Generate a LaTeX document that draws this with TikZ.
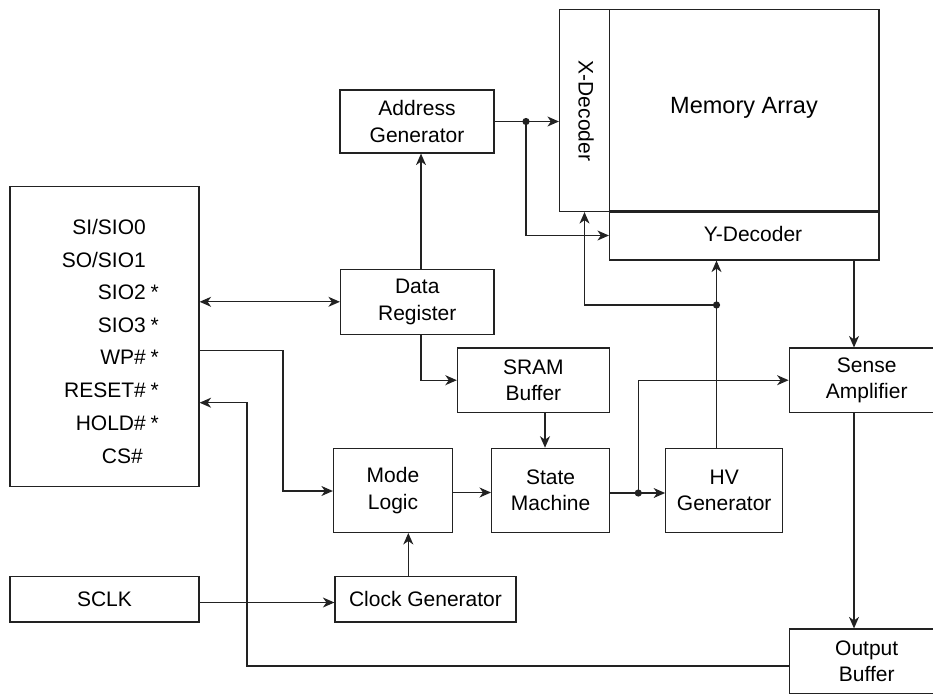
\documentclass[tikz,border=0pt]{standalone}
\usepackage{fontspec}
\setmainfont{Liberation Sans}
\usetikzlibrary{arrows.meta}
\definecolor{linec}{HTML}{222222}
\begin{document}
\begin{tikzpicture}[x=1pt,y=-1pt,
  every node/.style={font=\fontsize{21}{26.5}\selectfont, text=black},
  box/.style={draw=linec, line width=1.2pt, rectangle, inner sep=0pt, align=center},
  tip/.tip={Stealth[length=11.5pt,width=10pt,inset=3.5pt]},
  arr/.style={draw=linec, line width=1.2pt, -tip},
  biarr/.style={draw=linec, line width=1.2pt, tip-tip},
  pinname/.style={anchor=base east, inner sep=0pt},
  pinstar/.style={anchor=base west, inner sep=0pt}]

\useasboundingbox (0,0) rectangle (933,693);
\clip (0,0) rectangle (933,693);

% ---- pin block ----
\node[box, minimum width=189pt, minimum height=300pt] (pins) at (104.5,336.5) {};
\node[pinname] (p0) at (146,234.2) {SI/SIO0};
\node[pinname] (p1) at (146,267.5) {SO/SIO1};
\node[pinname] (p2) at (146,299.2) {SIO2};
\node[pinstar] (s2) at (150.5,299.2) {*};
\node[pinname] (p3) at (146,332.5) {SIO3};
\node[pinstar] (s3) at (150.5,332.5) {*};
\node[pinname] (p4) at (146,364.2) {WP\#};
\node[pinstar] (s4) at (150.5,364.2) {*};
\node[pinname] (p5) at (146,397.5) {RESET\#};
\node[pinstar] (s5) at (150.5,397.5) {*};
\node[pinname] (p6) at (146,430.2) {HOLD\#};
\node[pinstar] (s6) at (150.5,430.2) {*};
\node[pinname] (p7) at (143,463.5) {CS\#};

\node[box, minimum width=189pt, minimum height=45.5pt] (sclk) at (104.5,599.3) {SCLK};

% ---- logic blocks ----
\node[box, minimum width=154pt, minimum height=63pt] (addr) at (417,121.5) {Address\\Generator};
\node[box, minimum width=153.5pt, minimum height=65pt] (dreg) at (417.25,301.8) {Data\\Register};
\node[box, minimum width=152pt, minimum height=64.3pt] (sram) at (533.4,380.2) {SRAM\\Buffer};
\node[box, minimum width=119pt, minimum height=84pt] (mode) at (393,490.4) {Mode\\Logic};
\node[box, minimum width=118pt, minimum height=84pt] (state) at (550.6,490.3) {State\\Machine};
\node[box, minimum width=117pt, minimum height=84pt] (hv) at (724.2,490.3) {HV\\Generator};
\node[box, minimum width=181pt, minimum height=45.5pt] (clk) at (425.5,599.3) {Clock Generator};
\node[box, minimum width=155pt, minimum height=64.3pt] (sense) at (866.7,380.2) {Sense\\Amplifier};
\node[box, minimum width=155pt, minimum height=65pt] (obuf) at (866.7,661.5) {Output\\Buffer};

% ---- memory core ----
\node[box, minimum width=50pt, minimum height=202pt] (xdec) at (584.5,110.5) {};
\node[rotate=-90] (xdeclbl) at (586,111) {X-Decoder};
\node[box, minimum width=269.5pt, minimum height=201.5pt] (mem) at (744.25,110.25) {};
\node[font=\fontsize{23.5}{28}\selectfont] (memlbl) at (744,108) {Memory Array};
\node[box, minimum width=269.5pt, minimum height=49pt] (ydec) at (744.25,235.5) {};
\node (ydeclbl) at (753,233.5) {Y-Decoder};
\draw[linec, line width=2.6pt] (mem.south west) -- (mem.south east);

% ---- routing points ----
\coordinate (ja) at (526,121.5);
\coordinate (cdr) at (421,0);
\coordinate (css) at (545,0);
\coordinate (wpy) at (0,350.3);
\coordinate (wpx) at (283,0);
\coordinate (my) at (0,491);
\coordinate (oby) at (0,666);
\coordinate (obx) at (247,0);
\coordinate (rsy) at (0,402.7);
\coordinate (scy) at (0,602.5);
\coordinate (cmx) at (408.3,0);
\coordinate (msy) at (0,492.5);
\coordinate (js) at (638.3,493);
\coordinate (jh) at (716.5,305);
\coordinate (cs) at (854,0);

% ---- connectors ----
\draw[arr] (addr.east) -- (addr.east -| xdec.west);
\draw[arr] (ja) |- (ydec.west);
\draw[arr] (dreg.north -| cdr) -- (addr.south -| cdr);
\draw[biarr] (pins.east |- dreg.west) -- (dreg.west);
\draw[arr] (dreg.south -| cdr) |- (sram.west);
\draw[arr] (sram.south -| css) -- (state.north -| css);
\draw[arr] (pins.east |- wpy) -| (wpx |- my) -- (mode.west |- my);
\draw[arr] (obuf.west |- oby) -| (obx |- rsy) -- (pins.east |- rsy);
\draw[arr] (sclk.east |- scy) -- (clk.west |- scy);
\draw[arr] (clk.north -| cmx) -- (mode.south -| cmx);
\draw[arr] (mode.east |- msy) -- (state.west |- msy);
\draw[arr] (state.east |- js) -- (hv.west |- js);
\draw[arr] (js) |- (sense.west);
\draw[arr] (hv.north -| jh) -- (ydec.south -| jh);
\draw[arr] (jh) -| (xdec.south);
\draw[arr] (ydec.south -| cs) -- (sense.north -| cs);
\draw[arr] (sense.south -| cs) -- (obuf.north -| cs);

% ---- junction dots ----
\fill[linec] (ja) circle (3.6pt);
\fill[linec] (js) circle (3.6pt);
\fill[linec] (jh) circle (3.6pt);
\end{tikzpicture}
\end{document}
